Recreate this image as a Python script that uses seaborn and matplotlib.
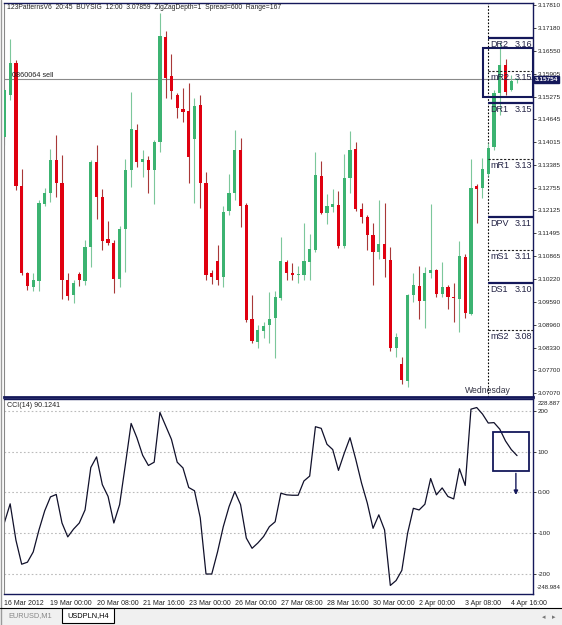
import matplotlib
matplotlib.use('Agg')
import matplotlib.pyplot as plt
from matplotlib.patches import Rectangle
import numpy as np
import pandas as pd
import seaborn as sns

# USDPLN H4 bars
opens = [3.1416, 3.1532, 3.1621, 3.1280, 3.1039, 3.1001, 3.1017, 3.1230, 3.1261, 3.1352,
         3.1288, 3.1020, 3.0979, 3.1037, 3.1017, 3.1111, 3.1347, 3.1250, 3.1133, 3.1122,
         3.1023, 3.1161, 3.1324, 3.1435, 3.1347, 3.1352, 3.1324, 3.1402, 3.1693, 3.1585,
         3.1532, 3.1493, 3.1488, 3.1410, 3.1504, 3.1288, 3.1039, 3.1072, 3.1028, 3.1211,
         3.1261, 3.1380, 3.1228, 3.0912, 3.0848, 3.0879, 3.0895, 3.0915, 3.0970, 3.1070,
         3.1039, 3.1034, 3.1034, 3.1070, 3.1103, 3.1308, 3.1205, 3.1222, 3.1228, 3.1114,
         3.1302, 3.1383, 3.1216, 3.1194, 3.1145, 3.1097, 3.1120, 3.1075, 3.0832, 3.0787,
         3.0740, 3.0978, 3.1003, 3.0962, 3.1039, 3.1048, 3.0981, 3.1001, 3.0973, 3.0967,
         3.1084, 3.0926, 3.1280, 3.1275, 3.1313, 3.1388, 3.1538, 3.1615, 3.1546, 3.1574]
highs = [3.1551, 3.1687, 3.1629, 3.1327, 3.1042, 3.1039, 3.1241, 3.1275, 3.1383, 3.1421,
         3.1366, 3.1039, 3.1020, 3.1042, 3.1131, 3.1352, 3.1394, 3.1272, 3.1183, 3.1131,
         3.1169, 3.1355, 3.1540, 3.1452, 3.1380, 3.1363, 3.1407, 3.1759, 3.1709, 3.1646,
         3.1538, 3.1551, 3.1565, 3.1524, 3.1532, 3.1319, 3.1048, 3.1117, 3.1225, 3.1313,
         3.1435, 3.1413, 3.1233, 3.0978, 3.0895, 3.0904, 3.0987, 3.0990, 3.1139, 3.1075,
         3.1067, 3.1059, 3.1178, 3.1147, 3.1374, 3.1349, 3.1258, 3.1272, 3.1266, 3.1369,
         3.1432, 3.1402, 3.1233, 3.1200, 3.1178, 3.1241, 3.1233, 3.1111, 3.0873, 3.0807,
         3.0981, 3.1039, 3.1059, 3.1056, 3.1230, 3.1050, 3.1070, 3.1006, 3.1012, 3.1128,
         3.1092, 3.1355, 3.1286, 3.1358, 3.1399, 3.1546, 3.1679, 3.1632, 3.1587, 3.1579]
lows = [3.1394, 3.1518, 3.1269, 3.1034, 3.0992, 3.0990, 3.0990, 3.1225, 3.1236, 3.1250,
        3.0967, 3.0965, 3.0956, 3.1003, 3.1006, 3.1056, 3.1189, 3.1103, 3.1117, 3.0984,
        3.1001, 3.1042, 3.1277, 3.1333, 3.1305, 3.1261, 3.1230, 3.1374, 3.1524, 3.1521,
        3.1468, 3.1457, 3.1288, 3.1233, 3.1219, 3.1020, 3.1009, 3.1006, 3.1001, 3.1200,
        3.1241, 3.1167, 3.0904, 3.0846, 3.0832, 3.0860, 3.0846, 3.0804, 3.0965, 3.1020,
        3.1020, 3.1012, 3.1020, 3.1020, 3.1097, 3.1203, 3.1175, 3.1208, 3.1109, 3.1109,
        3.1261, 3.1211, 3.1178, 3.1103, 3.1006, 3.1078, 3.1028, 3.0823, 3.0807, 3.0732,
        3.0724, 3.0959, 3.0912, 3.0887, 3.1026, 3.0973, 3.0973, 3.0940, 3.0904, 3.0876,
        3.0915, 3.0923, 3.1178, 3.1247, 3.1308, 3.1380, 3.1477, 3.1532, 3.1543, 3.1565]
closes = [3.1546, 3.1621, 3.1280, 3.1039, 3.1003, 3.1020, 3.1233, 3.1261, 3.1352, 3.1288,
          3.1020, 3.0976, 3.1012, 3.1020, 3.1111, 3.1347, 3.1250, 3.1128, 3.1122, 3.1023,
          3.1161, 3.1324, 3.1438, 3.1347, 3.1355, 3.1324, 3.1402, 3.1695, 3.1579, 3.1543,
          3.1496, 3.1485, 3.1360, 3.1502, 3.1288, 3.1034, 3.1028, 3.1020, 3.1208, 3.1261,
          3.1380, 3.1225, 3.0909, 3.0851, 3.0882, 3.0893, 3.0912, 3.0973, 3.1072, 3.1039,
          3.1034, 3.1037, 3.1072, 3.1106, 3.1311, 3.1205, 3.1225, 3.1230, 3.1114, 3.1302,
          3.1380, 3.1216, 3.1194, 3.1145, 3.1097, 3.1120, 3.1078, 3.0832, 3.0862, 3.0743,
          3.0978, 3.1006, 3.0962, 3.1039, 3.1048, 3.0981, 3.1001, 3.0973, 3.0970, 3.1086,
          3.0929, 3.1275, 3.1272, 3.1327, 3.1385, 3.1538, 3.1615, 3.1540, 3.1571, 3.15754]

# CCI(14) per bar
cci = [-74, -28, -117, -176, -171, -146, -92, -45, -11, -5,
       -75, -109, -90, -75, -43, 61, 87, 19, -10, -75,
       -30, 68, 169, 134, 91, 66, 74, 196, 163, 130,
       74, 60, 12, 4, -62, -200, -200, -146, -84, -35,
       2, -30, -112, -137, -124, -108, -84, -72, -2, -6,
       -7, -7, 28, 40, 161, 157, 118, 105, 54, 96,
       134, 81, 23, -26, -88, -55, -92, -228, -216, -191,
       -100, -39, -43, -29, 34, -6, 11, -10, -16, 58,
       17, 204, 208, 192, 170, 171, 155, 126, 105, 90.1241]

date_labels = ['16 Mar 2012', '19 Mar 00:00', '20 Mar 08:00', '21 Mar 16:00', '23 Mar 00:00',
               '26 Mar 00:00', '27 Mar 08:00', '28 Mar 16:00', '30 Mar 00:00', '2 Apr 00:00',
               '3 Apr 08:00', '4 Apr 16:00']
price_ticks = [3.17810, 3.17180, 3.16550, 3.15905, 3.15275, 3.14645, 3.14015, 3.13385, 3.12755,
               3.12125, 3.11495, 3.10865, 3.10220, 3.09590, 3.08960, 3.08330, 3.07700, 3.07070]
pivot_names = ['DR2', 'mR2', 'DR1', 'mR1', 'DPV', 'mS1', 'DS1', 'mS2']
pivot_levels = [3.16904, 3.15991, 3.15097, 3.13547, 3.11941, 3.11028, 3.10115, 3.08814]
pivot_values = ['3.16', '3.15', '3.15', '3.13', '3.11', '3.11', '3.10', '3.08']
cci_levels = [200, 100, 0, -100, -200]
cci_top, cci_bottom = 228.887, -248.984
last_price = 3.15754
sell_level = 3.15754

sns.set_style('white')
plt.rcParams['font.family'] = ['Liberation Sans', 'DejaVu Sans']

NAVY = '#14185a'
GREEN = '#3cb371'
RED = '#e00010'

W, H = 562, 625
fig = plt.figure(figsize=(W / 100, H / 100), dpi=100)


def box(l, t, r, b):
    return [l / W, 1 - b / H, (r - l) / W, (b - t) / H]


ax = fig.add_axes(box(4, 3, 533, 397))
ax2 = fig.add_axes(box(4, 399, 533, 594))

bars = pd.DataFrame({'open': opens, 'high': highs, 'low': lows, 'close': closes})
bars['idx'] = np.arange(len(bars))
bars['up'] = bars['close'] >= bars['open']
xlim = (-0.07, 91.77)

# candles
for up, body_col, wick_col in [(True, GREEN, '#7cc79b'), (False, RED, '#a83838')]:
    d = bars[bars['up'] == up]
    ax.vlines(d['idx'], d['low'], d['high'], color=wick_col, lw=0.8, zorder=2)
    bottom = np.minimum(d['open'], d['close'])
    height = np.maximum((d['close'] - d['open']).abs(), 0.00006)
    ax.bar(d['idx'], height, bottom=bottom, width=0.55, color=body_col, lw=0, zorder=3)

ax.set_xlim(*xlim)
ax.set_ylim(3.06961, 3.17867)
ax.set_xticks([])
ax.yaxis.tick_right()
ax.set_yticks(price_ticks)
ax.set_yticklabels([f'{p:.5f}' for p in price_ticks])
ax.tick_params(axis='y', direction='out', length=2.5, width=0.6, labelsize=4.6, pad=0.8,
               colors='#222222')
for s in ['top', 'right']:
    ax.spines[s].set_color(NAVY)
    ax.spines[s].set_linewidth(1)
ax.spines['bottom'].set_color(NAVY)
ax.spines['bottom'].set_linewidth(2)
ax.spines['left'].set_color('#888888')
ax.spines['left'].set_linewidth(0.8)

# sell / bid line
ax.axhline(sell_level, color='#8a8a8a', lw=0.8, zorder=1)
ax.text(1.4, sell_level + 0.0002, '0860064 sell', fontsize=5.2, va='bottom', ha='left',
        color='#222222')
ax.text(1.003, last_price, f'{last_price:.5f}', transform=ax.get_yaxis_transform(),
        fontsize=4.6, color='white', va='center', ha='left', fontweight='bold',
        bbox=dict(boxstyle='square,pad=0.15', fc=NAVY, ec=NAVY), zorder=10, clip_on=False)

# day separator and pivot levels
sep = 83.96
ax.axvline(sep, color='black', ls=(0, (1.5, 1.5)), lw=0.8, zorder=1)
ax.text(sep, 3.0702, 'Wednesday', fontsize=6.2, ha='center', va='bottom', color='#333344')
for name, lvl, val in zip(pivot_names, pivot_levels, pivot_values):
    solid = name.startswith('D')
    ax.hlines(lvl, sep, xlim[1], color=NAVY if solid else '#222222',
              lw=1.6 if solid else 0.8, ls='-' if solid else (0, (2, 1.5)), zorder=4)
    ax.annotate(name, xy=(84.3, lvl), xytext=(0, -1.5), textcoords='offset points',
                fontsize=6.5, va='top', ha='left', color='#222244', zorder=5)
    ax.annotate(val, xy=(91.6, lvl), xytext=(0, -1.5), textcoords='offset points',
                fontsize=6.5, va='top', ha='right', color='#222244', zorder=5)

ax.add_patch(Rectangle((83.04, 3.1527), 91.85 - 83.04, 3.1662 - 3.1527, fill=False,
                       ec=NAVY, lw=1.5, clip_on=False, zorder=6))

ax.text(0.006, 0.997, '123PatternsV6  20:45  BUYSIG  12:00  3.07859  ZigZagDepth=1  '
        'Spread=600  Range=167', transform=ax.transAxes, fontsize=4.85, va='top',
        ha='left', color='#222222')

# CCI pane
cci_df = pd.DataFrame({'idx': np.arange(len(cci)), 'cci': cci})
sns.lineplot(data=cci_df, x='idx', y='cci', ax=ax2, color='#10102a', lw=0.9)
for lv in cci_levels:
    ax2.axhline(lv, color='#bbbbbb', lw=0.8, ls=(0, (1.5, 2)), zorder=0)
ax2.set_xlim(*xlim)
ax2.set_ylim(cci_bottom, cci_top)
ax2.set_xlabel('')
ax2.set_ylabel('')
ax2.yaxis.tick_right()
ax2.set_yticks(cci_levels)
ax2.set_yticklabels(['200', '100', '0.00', '-100', '-200'])
ax2.tick_params(axis='y', direction='out', length=2.5, width=0.6, labelsize=4.6, pad=0.8,
                colors='#222222')
ax2.text(1.008, 0.99, f'{cci_top}', transform=ax2.transAxes, fontsize=4.5, va='top',
         ha='left', color='#222222')
ax2.text(1.008, 0.02, f'{cci_bottom}', transform=ax2.transAxes, fontsize=4.3, va='bottom',
         ha='left', color='#222222')
ax2.set_xticks(np.arange(0, 8 * len(date_labels), 8))
ax2.set_xticklabels(date_labels)
ax2.tick_params(axis='x', direction='out', length=3, width=0.6, labelsize=5, pad=1,
                colors='#222222')
for lab in ax2.get_xticklabels():
    lab.set_ha('left')
for s in ['top', 'right', 'bottom']:
    ax2.spines[s].set_color(NAVY)
    ax2.spines[s].set_linewidth(1)
ax2.spines['left'].set_color('#888888')
ax2.spines['left'].set_linewidth(0.8)
ax2.text(0.006, 0.985, f'CCI(14) {cci[-1]}', transform=ax2.transAxes, fontsize=5.1,
         va='top', ha='left', color='#222222')

ax2.add_patch(Rectangle((84.83, 53.6), 91.08 - 84.83, 147 - 53.6, fill=False, ec=NAVY,
                        lw=1.3, zorder=6))
ax2.annotate('', xy=(88.8, -13), xytext=(88.8, 53.6),
             arrowprops=dict(arrowstyle='-|>', color=NAVY, lw=1, mutation_scale=6))

# window chrome: left border and tab strip
fig.add_artist(plt.Line2D([1 / W, 1 / W], [0, 1], color='#9a9a9a', lw=1))
fig.add_artist(Rectangle((0, 0), 1, 17 / H, fc='#f0f0f0', ec='none', zorder=0))
fig.add_artist(plt.Line2D([0, 1], [1 - 608 / H] * 2, color='black', lw=0.8))
fig.add_artist(Rectangle((62 / W, 2 / H), 52 / W, 15 / H, fc='white', ec='black', lw=0.8))
fig.text(8 / W, 1 - 616 / H, 'EURUSD,M1', fontsize=5.3, color='#888888', va='center')
fig.text(67 / W, 1 - 616 / H, 'USDPLN,H4', fontsize=5.3, color='black', va='center')
fig.text(542 / W, 1 - 617 / H, '\u25c2', fontsize=5, color='#777777', va='center',
         family=['DejaVu Sans'])
fig.text(552 / W, 1 - 617 / H, '\u25b8', fontsize=5, color='#777777', va='center',
         family=['DejaVu Sans'])

fig.savefig('out.png', dpi=100)
